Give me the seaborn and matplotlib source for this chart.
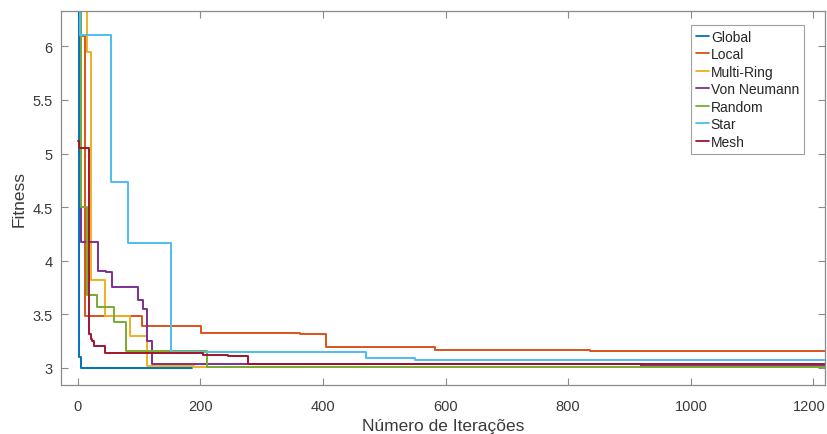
import numpy as np
import pandas as pd
import matplotlib
matplotlib.use("Agg")
import matplotlib.pyplot as plt
import matplotlib.transforms as mtransforms
import seaborn as sns

# ---- data (iteration breakpoints and fitness values, step functions) ----
topologies = ["Global", "Local", "Multi-Ring", "Von Neumann", "Random", "Star", "Mesh"]

global_iter = [0, 3, 5, 187]
global_fit = [7.0, 3.10, 3.00, 3.00]

local_iter = [0, 4, 12, 105, 201, 362, 405, 583, 835, 1218]
local_fit = [7.0, 6.10, 3.486, 3.392, 3.324, 3.31, 3.19, 3.168, 3.159, 3.159]

multiring_iter = [0, 15, 22, 44, 86, 114, 190, 374]
multiring_fit = [7.0, 5.95, 3.816, 3.486, 3.30, 3.016, 3.01, 3.01]

vonneumann_iter = [0, 5, 33, 46, 56, 99, 107, 114, 122, 919, 1218]
vonneumann_fit = [7.0, 4.176, 3.906, 3.896, 3.756, 3.635, 3.548, 3.25, 3.03, 3.012, 3.012]

random_iter = [0, 6, 15, 31, 60, 79, 211, 920, 1218]
random_fit = [7.0, 4.50, 3.68, 3.564, 3.43, 3.153, 3.01, 3.003, 3.003]

star_iter = [0, 4, 54, 82, 152, 470, 551, 1218]
star_fit = [7.0, 6.105, 4.737, 4.164, 3.149, 3.088, 3.072, 3.072]

mesh_iter = [0, 3, 19, 22, 24, 27, 44, 205, 246, 278, 1218]
mesh_fit = [5.12, 5.05, 3.31, 3.27, 3.25, 3.20, 3.14, 3.12, 3.105, 3.035, 3.035]

x_ticks = [0, 200, 400, 600, 800, 1000, 1200]
y_ticks = [3, 3.5, 4, 4.5, 5, 5.5, 6]
y_tick_labels = ["3", "3.5", "4", "4.5", "5", "5.5", "6"]

colors = ["#0072BD", "#D95319", "#EDB120", "#7E2F8E", "#77AC30", "#4DBEEE", "#A2142F"]

series = {
    "Global": (global_iter, global_fit),
    "Local": (local_iter, local_fit),
    "Multi-Ring": (multiring_iter, multiring_fit),
    "Von Neumann": (vonneumann_iter, vonneumann_fit),
    "Random": (random_iter, random_fit),
    "Star": (star_iter, star_fit),
    "Mesh": (mesh_iter, mesh_fit),
}

frames = []
for name in topologies:
    it, fv = series[name]
    frames.append(pd.DataFrame({"iter": it, "fitness": fv, "topology": name}))
df = pd.concat(frames, ignore_index=True)

sns.set_style("white")
plt.rcParams["font.family"] = ["Liberation Sans", "DejaVu Sans"]

fig = plt.figure(figsize=(8.28, 4.35), dpi=100)
ax = fig.add_axes([0.0737, 0.1133, 0.9221, 0.8597])

sns.lineplot(data=df, x="iter", y="fitness", hue="topology", hue_order=topologies,
             palette=colors, drawstyle="steps-post", linewidth=1.4, ax=ax,
             estimator=None, sort=True)

ax.set_xlim(-27, 1218)
ax.set_ylim(2.841, 6.333)
ax.set_xticks(x_ticks)
ax.set_xticklabels([str(t) for t in x_ticks])
ax.set_yticks(y_ticks)
ax.set_yticklabels(y_tick_labels)

spine_c = "#8a8a8a"
for s in ax.spines.values():
    s.set_color(spine_c)
    s.set_linewidth(0.9)
ax.tick_params(direction="in", length=5, width=0.8, color=spine_c,
               labelsize=10.5, labelcolor="#3a3a3a", top=True, right=True,
               bottom=True, left=True)
ax.tick_params(axis="x", pad=10)
ax.tick_params(axis="y", pad=6)

# nudge the last x tick label slightly left so it stays inside the figure
last = ax.get_xticklabels()[-1]
last.set_transform(last.get_transform() +
                   mtransforms.ScaledTranslation(-4 / 100, 0, fig.dpi_scale_trans))

ax.set_xlabel("Número de Iterações", fontsize=12.5, color="#3a3a3a", labelpad=4)
ax.set_ylabel("Fitness", fontsize=12.5, color="#3a3a3a", labelpad=4)

leg = ax.legend(loc="upper right", bbox_to_anchor=(0.973, 0.962), fontsize=10,
                frameon=True, fancybox=False, edgecolor="#8a8a8a",
                handlelength=0.9, handletextpad=0.15, labelspacing=0.25,
                borderpad=0.35, borderaxespad=0.0, title=None)
leg.get_frame().set_linewidth(0.8)
for line in leg.get_lines():
    line.set_linewidth(1.3)

fig.savefig("out.png", dpi=100)
